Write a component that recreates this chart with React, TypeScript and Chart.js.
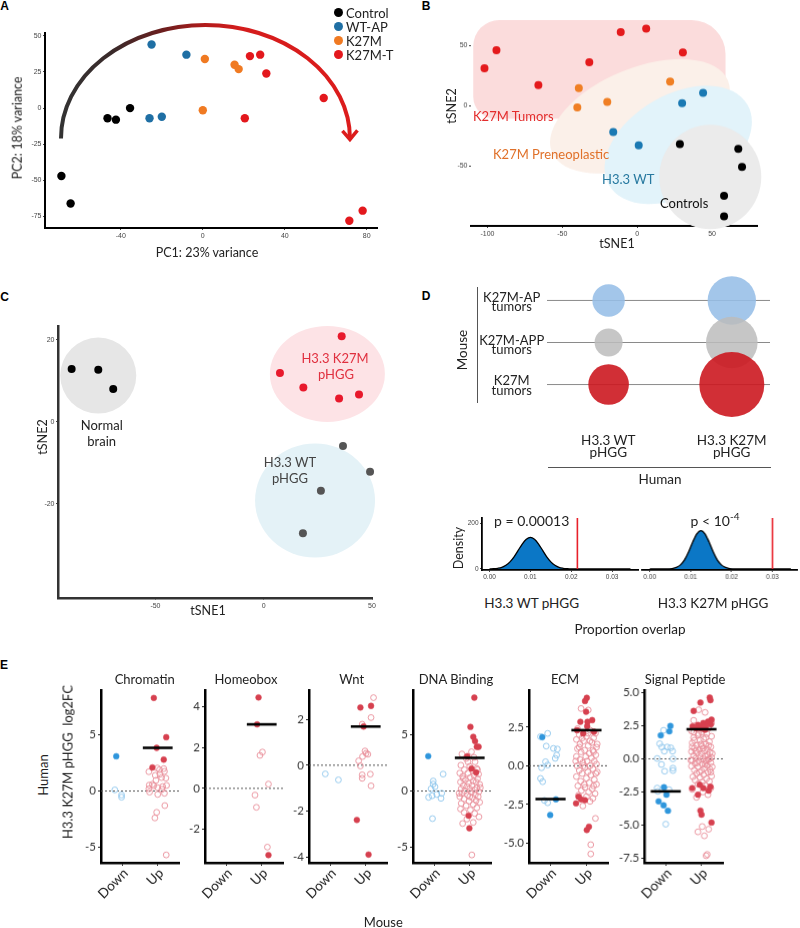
import React, { useEffect, useRef } from "react";
import { Chart, registerables } from "chart.js";
Chart.register(...registerables);

const SANS = "Lato, 'Open Sans', 'DejaVu Sans', sans-serif";
const ARIAL = "'Liberation Sans', Arial, sans-serif";

// ================= Panel A: PCA =================
const pcaGroups = ["Control", "WT-AP", "K27M", "K27M-T"];
const pcaColors = ["#000000", "#1f6fa4", "#f07a22", "#e3181d"];
const pcaControlX = [-69, -64.5, -46.5, -42.4, -35.5];
const pcaControlY = [-47, -66, -7, -8, 0];
const pcaWtApX = [-25, -8, -26, -20];
const pcaWtApY = [44, 37, -7, -6];
const pcaK27mX = [1, 15.5, 17.5, 0];
const pcaK27mY = [34, 30, 27, -1.5];
const pcaK27mTX = [23, 28, 31, 59, 20.5, 71.5, 78];
const pcaK27mTY = [36, 37, 24, 7, -7, -78, -71];
const pcaXTicks = [-40, 0, 40, 80];
const pcaYTicks = [-75, -50, -25, 0, 25, 50];

// ================= Panel B: mouse tSNE =================
const tsneRedX = [-102, -94, -66, -32, -11, 6, 30.5];
const tsneRedY = [31, 46, 17, 36, 61, 64, 44];
const tsneOrangeX = [-39, -40, -20, 22];
const tsneOrangeY = [14.5, -1.5, 3, 20];
const tsneBlueX = [44, 30, -16, 1];
const tsneBlueY = [10.5, 2, -22, -33];
const tsneBlackX = [28.5, 67.5, 70, 58, 58];
const tsneBlackY = [-32, -36, -51, -75, -92];
const tsneXTicks = [-100, -50, 0, 50];
const tsneYTicks = [-50, 0, 50];

// ================= Panel C: human tSNE =================
const humNormalX = [-88.7, -76.4, -69.5];
const humNormalY = [12.9, 12.7, 8.0];
const humK27mX = [36, 7.5, 18.3, 34.8, 44];
const humK27mY = [20.9, 11.9, 8.4, 5.7, 6.7];
const humWtX = [36.6, 49.1, 26.4, 18.1];
const humWtY = [-5.9, -12.2, -16.8, -27.2];
const humXTicks = [-50, 0, 50];
const humYTicks = [-20, 0, 20];

// ================= Panel D: overlap bubbles =================
const dRowLabels = [["K27M-AP", "tumors"], ["K27M-APP", "tumors"], ["K27M", "tumors"]];
const dColLabels = [["H3.3 WT", "pHGG"], ["H3.3 K27M", "pHGG"]];
const dOverlapWT = [16.2, 14.0, 20.3];
const dOverlapK27M = [24.2, 25.8, 32.5];

// density (permutation null distributions)
const densWtX = [0, 0.001, 0.002, 0.003, 0.004, 0.005, 0.006, 0.007, 0.008, 0.009, 0.01, 0.011, 0.012, 0.013, 0.014, 0.015, 0.016, 0.017, 0.018, 0.019, 0.02, 0.0345];
const densWtY = [0, 1, 3, 7, 16, 31, 53, 81, 109, 130, 138, 130, 109, 81, 53, 31, 16, 7, 3, 1, 0, 0];
const densK27mX = [0, 0.0045, 0.0055, 0.0065, 0.0075, 0.0085, 0.0095, 0.0105, 0.0115, 0.0125, 0.0135, 0.0145, 0.0155, 0.0165, 0.0175, 0.0185, 0.0195, 0.0205, 0.0345];
const densK27mY = [0, 0, 2, 7, 18, 40, 75, 118, 154, 168, 154, 118, 75, 40, 18, 7, 2, 0, 0];
const observedOverlap = [0.0215, 0.03];
const densXTicks = [0, 0.01, 0.02, 0.03];
const densYTicks = [0, 200];

// ================= Panel E: log2FC by category =================
// [jitter offset, log2FC]
const chromatinDownSig = [[-0.17, 3.1]];
const chromatinDownNs = [[-0.21, 0.1], [-0.02, -0.35], [-0.02, -0.55]];
const chromatinUpSig = [[-0.11, 8.3], [0.24, 4.8], [-0.03, 3.85], [0.17, 2.8], [-0.15, 2.1]];
const chromatinUpNs = [[-0.01, 2.05], [0.17, 2.0], [-0.25, 1.72], [-0.07, 1.4], [0.06, 1.5], [0.19, 1.75], [0.11, 1.2], [0.23, 1.15], [-0.05, 0.95], [-0.24, 0.53], [-0.11, 0.47], [0.14, 0.4], [-0.25, 0.2], [0.0, 0.3], [0.12, 0.15], [-0.23, -0.1], [0.0, -0.3], [0.19, -0.2], [0.2, -1.3], [-0.03, -1.9], [-0.08, -2.4], [0.24, -5.7], [0.05, 1.9], [-0.15, 0.6], [0.25, 0.5]];

const homeoboxDownSig: number[][] = [];
const homeoboxDownNs: number[][] = [];
const homeoboxUpSig = [[-0.09, 4.46], [-0.13, 3.14], [0.19, -3.27]];
const homeoboxUpNs = [[0.02, 1.78], [-0.05, 1.62], [-0.19, -0.33], [-0.15, -0.93], [0.19, 0.21], [0.16, -2.88]];

const wntDownSig: number[][] = [];
const wntDownNs = [[-0.14, -0.38], [0.23, -0.64]];
const wntUpSig = [[-0.15, 2.52], [0.15, 2.59], [-0.06, 1.69], [-0.25, -2.39], [0.08, -3.9]];
const wntUpNs = [[0.22, 2.95], [0.15, 2.08], [-0.1, 1.79], [-0.02, 0.62], [0.06, 0.48], [-0.09, 0.38], [-0.2, 0.19], [-0.15, -0.03], [0.13, -0.39], [-0.1, -0.42], [-0.1, -0.57], [0.15, -0.9], [0.01, 0.52]];

const dnaDownSig = [[-0.17, 3.11]];
const dnaDownNs = [[-0.03, 0.89], [0.02, 0.38], [-0.09, 0.2], [-0.06, -0.42], [0.07, -0.3], [0.19, -0.65], [0.25, 1.51], [-0.05, -2.46], [0.21, -0.2], [-0.03, 0.62], [-0.16, -0.56]];
const dnaUpSig = [[0.13, 8.33], [0.02, 5.72], [0.1, 4.83], [0.15, 4.45], [0.2, 3.94], [0.25, 3.94], [-0.07, 3.11], [0.05, 2.0], [0.18, 1.66], [-0.03, -2.2], [-0.01, -3.32]];
const dnaUpNs = [[-0.22, 3.3], [0.05, 3.5], [-0.1, 2.9], [0.15, 2.6], [-0.25, 2.3], [0.0, 2.2], [0.2, 2.0], [-0.15, 1.9], [0.08, 1.8], [-0.28, 1.6], [-0.05, 1.6], [0.25, 1.5], [0.12, 1.4], [-0.2, 1.3], [0.02, 1.2], [0.22, 1.1], [-0.12, 1.0], [0.1, 0.9], [-0.26, 0.8], [0.18, 0.8], [-0.03, 0.7], [0.28, 0.6], [-0.18, 0.5], [0.07, 0.5], [-0.08, 0.4], [0.2, 0.3], [-0.24, 0.2], [0.0, 0.2], [0.14, 0.1], [-0.14, 0.0], [0.26, -0.05], [0.04, -0.1], [-0.22, -0.2], [0.16, -0.3], [-0.06, -0.35], [0.24, -0.5], [-0.28, -0.5], [0.08, -0.6], [-0.16, -0.7], [0.18, -0.85], [-0.02, -0.9], [0.28, -1.0], [-0.24, -1.1], [0.1, -1.2], [-0.1, -1.3], [0.2, -1.5], [-0.26, -1.6], [0.02, -1.7], [-0.16, -1.9], [0.14, -2.0], [0.26, -2.3], [-0.08, -2.5], [-0.2, -2.9], [0.1, -2.8], [0.06, -5.7], [0.22, 1.9], [-0.05, 2.6], [0.12, 3.0], [-0.18, 1.1], [0.0, -0.5], [0.3, 0.3], [-0.3, -0.2]];

const ecmDownSig = [[-0.23, 1.85], [0.15, -2.17], [-0.01, -3.18]];
const ecmDownNs = [[-0.08, 2.09], [-0.28, 1.88], [-0.12, 1.27], [0.08, 1.12], [0.19, 1.08], [0.17, 0.69], [0.13, 0.48], [-0.14, 0.26], [-0.08, 0.05], [-0.25, -0.13], [-0.28, -0.82], [-0.22, -1.03], [-0.08, -2.39], [-0.17, -2.24]];
const ecmUpSig = [[0.01, 4.39], [-0.04, 4.18], [-0.01, 3.49], [-0.17, 2.84], [0.03, 2.84], [0.16, 2.95], [-0.26, 2.3], [-0.09, 2.09], [0.21, 2.2], [0.02, 2.56], [-0.22, -2.0], [-0.29, -2.43], [-0.15, -2.17], [-0.04, -2.22], [0.01, -4.15], [0.07, -3.94]];
const ecmUpNs = [[-0.15, 3.7], [0.05, 3.6], [-0.25, 2.4], [0.1, 2.3], [0.25, 2.1], [-0.2, 2.0], [0.0, 1.9], [0.2, 1.8], [-0.28, 1.7], [-0.08, 1.6], [0.15, 1.5], [-0.18, 1.4], [0.05, 1.3], [0.28, 1.2], [-0.25, 1.1], [-0.05, 1.0], [0.18, 1.0], [-0.15, 0.9], [0.08, 0.8], [0.26, 0.7], [-0.28, 0.6], [-0.02, 0.6], [0.14, 0.5], [-0.18, 0.4], [0.22, 0.3], [0.02, 0.3], [-0.1, 0.2], [0.28, 0.1], [-0.26, 0.0], [0.1, 0.0], [-0.04, -0.1], [0.18, -0.2], [-0.2, -0.3], [0.04, -0.4], [0.26, -0.5], [-0.12, -0.5], [0.12, -0.6], [-0.28, -0.7], [0.0, -0.8], [0.22, -0.9], [-0.16, -1.0], [0.08, -1.1], [0.28, -1.2], [-0.24, -1.3], [-0.04, -1.4], [0.16, -1.5], [-0.14, -1.6], [0.06, -1.7], [0.24, -1.8], [-0.22, -1.9], [0.0, -2.0], [0.18, -2.1], [0.1, -2.3], [-0.1, -2.6], [0.25, -3.4], [0.12, -5.1], [0.12, -5.7], [0.05, 2.1], [-0.12, 1.8], [0.3, 1.4], [-0.3, 0.3], [0.2, 0.9], [-0.06, -1.2], [0.3, -0.4], [-0.2, 1.2], [0.1, 1.6], [-0.08, 0.0], [0.2, -1.3]];

const spDownSig = [[0.13, 2.48], [0.1, 2.07], [-0.14, 1.77], [-0.05, -2.14], [0.02, -2.7], [-0.2, -3.2], [-0.06, -3.5], [0.06, -3.91]];
const spDownNs = [[-0.06, 2.15], [-0.17, 1.14], [-0.11, 0.89], [0.04, 0.89], [0.14, 0.83], [-0.04, 0.58], [0.19, 0.58], [0.2, 0.0], [-0.24, 0.03], [-0.12, -0.42], [0.2, -0.88], [-0.03, -0.93], [-0.24, -2.2], [-0.22, -2.45], [0.09, -2.32], [0.0, -4.92], [0.2, -0.7]];
const spUpSig = [[0.23, 4.62], [0.25, 4.42], [-0.03, 4.24], [-0.22, 3.61], [-0.1, 2.55], [0.05, 2.7], [0.18, 2.8], [0.28, 2.95], [-0.25, 2.45], [0.12, 2.45], [0.26, 2.6], [-0.02, 2.35], [0.0, 2.3], [0.1, 2.2], [-0.15, 2.3], [-0.26, -2.2], [-0.1, -2.7], [-0.05, -1.95], [0.2, -2.4], [0.25, -2.1], [-0.03, -3.9], [0.0, -4.2], [0.28, -4.8], [0.05, -2.2]];
const spUpNs = [[-0.08, 3.7], [0.1, 3.5], [-0.22, 2.9], [0.28, 2.7], [0.05, 2.6], [-0.15, 2.4], [0.2, 2.3], [-0.28, 2.1], [0.0, 2.0], [0.15, 1.9], [-0.1, 1.8], [0.28, 1.7], [-0.22, 1.6], [0.06, 1.5], [-0.04, 1.4], [0.22, 1.3], [-0.26, 1.2], [0.12, 1.1], [-0.14, 1.0], [0.02, 0.95], [0.26, 0.9], [-0.2, 0.8], [0.16, 0.75], [-0.06, 0.7], [0.08, 0.6], [-0.28, 0.55], [0.24, 0.5], [-0.12, 0.45], [0.0, 0.4], [0.18, 0.3], [-0.22, 0.25], [0.1, 0.2], [-0.04, 0.15], [0.28, 0.1], [-0.16, 0.05], [0.04, 0.0], [0.2, -0.05], [-0.26, -0.1], [-0.08, -0.15], [0.12, -0.2], [0.26, -0.3], [-0.18, -0.35], [0.02, -0.4], [0.16, -0.5], [-0.28, -0.55], [-0.1, -0.6], [0.08, -0.7], [0.24, -0.8], [-0.2, -0.85], [0.0, -0.9], [0.18, -1.0], [-0.14, -1.1], [0.06, -1.2], [0.28, -1.3], [-0.24, -1.35], [-0.04, -1.4], [0.14, -1.5], [-0.18, -1.6], [0.22, -1.7], [0.02, -1.75], [-0.1, -1.9], [0.1, -2.0], [0.26, -2.2], [-0.26, -2.3], [0.04, -2.5], [0.18, -2.7], [-0.14, -2.9], [-0.1, -5.5], [0.02, -5.1], [0.08, -5.8], [0.2, -5.3], [0.16, -7.2], [0.13, -7.3], [-0.2, 1.4], [0.12, 1.6], [-0.02, 1.1], [0.3, 0.4], [-0.3, -0.1], [0.1, -0.4], [-0.16, 0.6], [0.2, 1.0], [-0.06, -1.0], [0.26, -1.0], [-0.22, 2.0], [0.08, 2.2], [0.22, 0.0], [-0.12, -0.3], [0.04, 0.8], [0.14, -0.1], [-0.26, 0.9], [0.3, -0.6], [-0.08, 1.9]];

const eTitles = ["Chromatin", "Homeobox", "Wnt", "DNA Binding", "ECM", "Signal Peptide"];
const eCategories = ["Down", "Up"];
const eMedianDown = [null, null, null, null, -2.15, -2.45];
const eMedianUp = [3.85, 3.14, 1.69, 2.96, 2.3, 2.23];
const eYTicks = [[-5, 0, 5], [-2, 0, 2, 4], [-4, -2, 0, 2], [-5, 0, 5], [-5, -2.5, 0, 2.5], [-7.5, -5, -2.5, 0, 2.5, 5]];

// ---------- tables built from the arrays ----------
const eDownSig = [chromatinDownSig, homeoboxDownSig, wntDownSig, dnaDownSig, ecmDownSig, spDownSig];
const eDownNs = [chromatinDownNs, homeoboxDownNs, wntDownNs, dnaDownNs, ecmDownNs, spDownNs];
const eUpSig = [chromatinUpSig, homeoboxUpSig, wntUpSig, dnaUpSig, ecmUpSig, spUpSig];
const eUpNs = [chromatinUpNs, homeoboxUpNs, wntUpNs, dnaUpNs, ecmUpNs, spUpNs];

// ---------- layout / style ----------
const E_TOP = 690;
const E_BOTTOM = 862.7;
const E_XMIN = 0.4;
const E_XMAX = 2.6;
const eLayout = [
  { L: 100.7, R: 179, min: -6.4, max: 9.0, dec: 0, tx: 144.7 },
  { L: 204.7, R: 283.3, min: -3.65, max: 4.82, dec: 0, tx: 246 },
  { L: 309, R: 387.3, min: -4.26, max: 3.28, dec: 0, tx: 351.7 },
  { L: 412.7, R: 490.7, min: -6.4, max: 9.0, dec: 0, tx: 456 },
  { L: 529.3, R: 608.3, min: -6.27, max: 4.89, dec: 1, tx: 565 },
  { L: 644.3, R: 722.7, min: -7.83, max: 5.18, dec: 1, tx: 685 },
];
const RED_FILL = "#d6404f";
const RED_OPEN = "#e98d98";
const BLUE_FILL = "#2f96dc";
const BLUE_OPEN = "#8cc5ec";

type Box = { L: number; T: number; R: number; B: number; yW: number; xH: number; pad?: number };

function rectOf(b: Box) {
  const p = b.pad ?? 14;
  return { left: b.L - b.yW - p, top: b.T - p, width: b.R - b.L + b.yW + 2 * p, height: b.B - b.T + b.xH + 2 * p, p };
}

function ChartBox({ box, build }: { box: Box; build: (p: number) => any }) {
  const ref = useRef<HTMLCanvasElement | null>(null);
  const r = rectOf(box);
  useEffect(() => {
    const ch = new Chart(ref.current as HTMLCanvasElement, build(r.p));
    return () => ch.destroy();
  }, []);
  return (
    <canvas
      ref={ref}
      width={r.width}
      height={r.height}
      style={{ position: "absolute", left: r.left, top: r.top, width: r.width, height: r.height }}
    />
  );
}

function baseOptions(p: number, scales: any, extra: any = {}) {
  return {
    responsive: false,
    animation: false,
    devicePixelRatio: 1,
    events: [],
    layout: { padding: p, autoPadding: false },
    plugins: { legend: { display: false }, tooltip: { enabled: false } },
    scales,
    ...extra,
  };
}

function axis(o: any) {
  return {
    type: "linear",
    display: o.display ?? true,
    min: o.min,
    max: o.max,
    afterBuildTicks: (s: any) => {
      s.ticks = o.ticks.map((v: number) => ({ value: v }));
    },
    afterFit: (s: any) => {
      if (o.vertical) s.width = o.size;
      else s.height = o.size;
    },
    border: { display: o.line ?? true, color: o.lineColor ?? "#000", width: o.lineW ?? 1.5 },
    grid: { drawOnChartArea: false, drawTicks: true, tickLength: o.tickLen ?? 2, color: o.tickColor ?? "#444", lineWidth: 1 },
    ticks: {
      display: o.labels ?? true,
      autoSkip: false,
      maxRotation: 0,
      minRotation: 0,
      padding: o.tickPad ?? 1.5,
      color: o.color ?? "#444",
      font: { size: o.font ?? 7, family: o.family ?? ARIAL },
      callback: (v: number) => (o.fmt ? o.fmt(v) : String(v)),
    },
  };
}

const xy = (xs: number[], ys: number[]) => xs.map((x, i) => ({ x, y: ys[i] }));

function dotDs(data: any[], color: string, r: number) {
  return { data, clip: false, pointRadius: r, pointBackgroundColor: color, pointBorderColor: color, backgroundColor: color, borderColor: color, pointBorderWidth: 0 };
}

// ----- Panel A chart -----
const boxA: Box = { L: 45, T: 33, R: 377, B: 228, yW: 20, xH: 12 };
function buildA(p: number) {
  const arrowPlugin = {
    id: "arcArrow",
    beforeDatasetsDraw(chart: any) {
      const { ctx, scales } = chart;
      const sx = scales.x, sy = scales.y;
      const cx = sx.getPixelForValue(1.3), cy = sy.getPixelForValue(-21);
      const rx = sx.getPixelForValue(71.8) - cx;
      const ry = cy - sy.getPixelForValue(57.5);
      ctx.save();
      const g = ctx.createLinearGradient(cx - rx, 0, cx + rx, 0);
      g.addColorStop(0, "#333333");
      g.addColorStop(0.18, "#3a2a2a");
      g.addColorStop(0.36, "#6e1e1e");
      g.addColorStop(0.5, "#b31c1c");
      g.addColorStop(0.62, "#d41c1c");
      g.addColorStop(1, "#dc1c1c");
      ctx.strokeStyle = g;
      ctx.lineWidth = 4;
      ctx.beginPath();
      ctx.ellipse(cx, cy, rx, ry, 0, Math.PI, 2 * Math.PI);
      ctx.stroke();
      const tx = cx + rx, ty = cy + 1;
      ctx.strokeStyle = "#dc1c1c";
      ctx.lineWidth = 3.5;
      ctx.lineJoin = "miter";
      ctx.beginPath();
      ctx.moveTo(tx - 7.5, ty - 8.5);
      ctx.lineTo(tx, ty);
      ctx.lineTo(tx + 7.5, ty - 9);
      ctx.stroke();
      ctx.restore();
    },
  };
  return {
    type: "scatter",
    data: {
      datasets: [
        dotDs(xy(pcaControlX, pcaControlY), pcaColors[0], 4.2),
        dotDs(xy(pcaWtApX, pcaWtApY), pcaColors[1], 4.2),
        dotDs(xy(pcaK27mX, pcaK27mY), pcaColors[2], 4.2),
        dotDs(xy(pcaK27mTX, pcaK27mTY), pcaColors[3], 4.2),
      ],
    },
    options: baseOptions(p, {
      x: axis({ min: -77, max: 85, ticks: pcaXTicks, size: boxA.xH, lineW: 2 }),
      y: axis({ min: -83, max: 52, ticks: pcaYTicks, size: boxA.yW, vertical: true, lineW: 2 }),
    }),
    plugins: [arrowPlugin],
  };
}

// ----- Panel B chart -----
const boxB: Box = { L: 471, T: 20, R: 757, B: 225.7, yW: 20, xH: 12 };
function buildB(p: number) {
  const blobs = {
    id: "blobs",
    beforeDatasetsDraw(chart: any) {
      const { ctx, scales } = chart;
      const sx = scales.x, sy = scales.y;
      ctx.save();
      const x0 = sx.getPixelForValue(-109.5), x1 = sx.getPixelForValue(59);
      const y0 = sy.getPixelForValue(71), y1 = sy.getPixelForValue(-11);
      ctx.fillStyle = "#fbdcdc";
      ctx.beginPath();
      ctx.roundRect(x0, y0, x1 - x0, y1 - y0, [26, 34, 24, 22]);
      ctx.fill();
      const ell = (cxv: number, cyv: number, rx: number, ry: number, rot: number, col: string) => {
        ctx.fillStyle = col;
        ctx.beginPath();
        ctx.ellipse(sx.getPixelForValue(cxv), sy.getPixelForValue(cyv), rx, ry, (rot * Math.PI) / 180, 0, 2 * Math.PI);
        ctx.fill();
      };
      ell(1.8, -8.9, 95, 48, -22, "#fbf0e9");
      ell(27.4, -32.7, 80, 50, -30, "#e2f3fa");
      ell(48.8, -59.3, 51, 52, 0, "#ebebeb");
      ctx.restore();
    },
  };
  return {
    type: "scatter",
    data: {
      datasets: [
        dotDs(xy(tsneRedX, tsneRedY), "#e41a1c", 4),
        dotDs(xy(tsneOrangeX, tsneOrangeY), "#f07f24", 4),
        dotDs(xy(tsneBlueX, tsneBlueY), "#1a79b3", 4),
        dotDs(xy(tsneBlackX, tsneBlackY), "#000000", 4),
      ],
    },
    options: baseOptions(p, {
      x: axis({ min: -111, max: 80, ticks: tsneXTicks, size: boxB.xH, lineW: 2 }),
      y: axis({ min: -100, max: 71, ticks: tsneYTicks, size: boxB.yW, vertical: true, line: false }),
    }),
    plugins: [blobs],
  };
}

// ----- Panel C chart -----
const boxC: Box = { L: 58, T: 326, R: 372, B: 598, yW: 16, xH: 12 };
function buildC(p: number) {
  const circles = {
    id: "circles",
    beforeDatasetsDraw(chart: any) {
      const { ctx, scales } = chart;
      const sx = scales.x, sy = scales.y;
      const ell = (cxv: number, cyv: number, rx: number, ry: number, col: string) => {
        ctx.fillStyle = col;
        ctx.beginPath();
        ctx.ellipse(sx.getPixelForValue(cxv), sy.getPixelForValue(cyv), rx, ry, 0, 0, 2 * Math.PI);
        ctx.fill();
      };
      ctx.save();
      ell(-76.4, 11.3, 38, 38, "#e6e6e6");
      ell(29.4, 11.7, 57.5, 48, "#fde3e6");
      ell(23.7, -19.2, 60, 57, "#e4f2f7");
      ctx.restore();
    },
  };
  return {
    type: "scatter",
    data: {
      datasets: [
        dotDs(xy(humNormalX, humNormalY), "#000000", 4),
        dotDs(xy(humK27mX, humK27mY), "#e8192c", 4),
        dotDs(xy(humWtX, humWtY), "#555555", 4),
      ],
    },
    options: baseOptions(p, {
      x: axis({ min: -95, max: 50, ticks: humXTicks, size: boxC.xH, lineW: 2.5, lineColor: "#333" }),
      y: axis({ min: -43, max: 23.4, ticks: humYTicks, size: boxC.yW, vertical: true, lineW: 2.5, lineColor: "#333" }),
    }),
    plugins: [circles],
  };
}

// ----- Panel D bubbles -----
const boxD: Box = { L: 546.7, T: 270.5, R: 770, B: 413.8, yW: 0, xH: 0, pad: 40 };
function buildD(p: number) {
  const rowY = [3, 2, 1];
  const colors = ["rgba(150,190,231,0.88)", "rgba(188,188,188,0.85)", "rgba(204,24,32,0.9)"];
  const bubble = (i: number) => ({
    type: "bubble",
    clip: false,
    data: [
      { x: 1, y: rowY[i], r: dOverlapWT[i] },
      { x: 2, y: rowY[i], r: dOverlapK27M[i] },
    ],
    backgroundColor: colors[i],
    borderWidth: 0,
  });
  const rule = (i: number) => ({
    type: "line",
    data: [
      { x: 0.5, y: rowY[i] },
      { x: 2.31, y: rowY[i] },
    ],
    borderColor: "#8a8a8a",
    borderWidth: 1,
    pointRadius: 0,
  });
  return {
    type: "bubble",
    data: { datasets: [bubble(2), bubble(1), bubble(0), rule(0), rule(1), rule(2)] },
    options: baseOptions(p, {
      x: { type: "linear", display: false, min: 0.5, max: 2.31 },
      y: { type: "linear", display: false, min: 0.3, max: 3.7 },
    }),
  };
}

// ----- density charts -----
const boxDen1: Box = { L: 481.7, T: 518, R: 638.3, B: 570, yW: 18, xH: 11 };
const boxDen2: Box = { L: 642.3, T: 518, R: 796.7, B: 570, yW: 0, xH: 11 };
function buildDensity(xs: number[], ys: number[], obs: number, xmin: number, xmax: number, showY: boolean, yW: number) {
  return (p: number) => ({
    type: "line",
    data: {
      datasets: [
        {
          data: [
            { x: obs, y: 0 },
            { x: obs, y: 223 },
          ],
          borderColor: "#e8202a",
          borderWidth: 1.6,
          pointRadius: 0,
        },
        {
          data: xy(xs, ys),
          borderColor: "#000",
          borderWidth: 1.3,
          backgroundColor: "#0b77c6",
          fill: "origin",
          pointRadius: 0,
          cubicInterpolationMode: "monotone",
        },
      ],
    },
    options: baseOptions(p, {
      x: axis({ min: xmin, max: xmax, ticks: densXTicks, size: 11, lineW: 1.8, font: 6.5, fmt: (v: number) => v.toFixed(2) }),
      y: axis({ min: -4.4, max: 223, ticks: densYTicks, size: yW, vertical: true, display: showY, lineW: 1.8, font: 6.5 }),
    }),
  });
}

// ----- Panel E charts -----
// category tick labels drawn rotated 45 degrees at the x-scale positions
const rotatedCategoryLabels = {
  id: "rotCats",
  afterDraw(chart: any) {
    const { ctx, chartArea } = chart;
    const sx = chart.scales.x;
    ctx.save();
    ctx.font = `13.5px ${SANS}`;
    ctx.fillStyle = "#222";
    ctx.textAlign = "right";
    ctx.textBaseline = "middle";
    eCategories.forEach((label, k) => {
      const px = sx.getPixelForValue(k + 1);
      ctx.save();
      ctx.translate(px + 3.5, chartArea.bottom + 8);
      ctx.rotate(-Math.PI / 4);
      ctx.fillText(label, 0, 0);
      ctx.restore();
    });
    ctx.restore();
  },
};

function buildE(i: number) {
  return (p: number) => {
    const lay = eLayout[i];
    const pts = (arr: number[][], base: number) => arr.map(([j, v]) => ({ x: base + j, y: v }));
    const seg = (c: number, v: number) => [
      { x: c - 0.42, y: v },
      { x: c + 0.42, y: v },
    ];
    const lineDs = (data: any[], col: string, w: number) => ({ data, showLine: true, borderColor: col, borderWidth: w, pointRadius: 0 });
    const ptDs = (data: any[], col: string, filled: boolean) => ({
      data,
      pointRadius: 2.9,
      pointBackgroundColor: filled ? col : "rgba(255,255,255,0)",
      backgroundColor: filled ? col : "rgba(255,255,255,0)",
      pointBorderColor: col,
      borderColor: col,
      pointBorderWidth: filled ? 0.5 : 0.9,
    });
    const ds: any[] = [];
    if (eMedianUp[i] != null) ds.push(lineDs(seg(2, eMedianUp[i] as number), "#000", 2.6));
    if (eMedianDown[i] != null) ds.push(lineDs(seg(1, eMedianDown[i] as number), "#000", 2.6));
    ds.push(ptDs(pts(eUpSig[i], 2), RED_FILL, true));
    ds.push(ptDs(pts(eDownSig[i], 1), BLUE_FILL, true));
    ds.push(ptDs(pts(eUpNs[i], 2), RED_OPEN, false));
    ds.push(ptDs(pts(eDownNs[i], 1), BLUE_OPEN, false));
    ds.push({ ...lineDs([{ x: E_XMIN, y: 0 }, { x: E_XMAX, y: 0 }], "#555", 1), borderDash: [2, 2] });
    return {
      type: "scatter",
      data: { datasets: ds },
      options: baseOptions(p, {
        x: axis({
          min: E_XMIN,
          max: E_XMAX,
          ticks: [1, 2],
          size: 40,
          lineW: 2.5,
          tickLen: 3,
          tickColor: "#222",
          labels: false,
          font: 13,
          family: SANS,
        }),
        y: axis({
          min: lay.min,
          max: lay.max,
          ticks: eYTicks[i],
          size: 26,
          vertical: true,
          lineW: 2.5,
          tickLen: 3,
          tickColor: "#222",
          font: 11.5,
          family: SANS,
          color: "#333",
          tickPad: 2,
          fmt: (v: number) => v.toFixed(lay.dec),
        }),
      }),
      plugins: [rotatedCategoryLabels],
    };
  };
}

function Txt({ x, y, s = 12.5, c = "#222", a = "center", r = 0, w = 400, f = SANS, children }: any) {
  const tx = a === "center" ? "-50%" : a === "left" ? "0%" : "-100%";
  return (
    <div
      style={{
        position: "absolute",
        left: x,
        top: y,
        transform: `translate(${tx},-50%) rotate(${r}deg)`,
        transformOrigin: a === "left" ? "0% 50%" : "50% 50%",
        fontSize: s,
        color: c,
        fontFamily: f,
        fontWeight: w,
        whiteSpace: "nowrap",
        lineHeight: 1,
      }}
    >
      {children}
    </div>
  );
}

export default function App() {
  const legendY = [12.8, 26.8, 40.8, 54.8];
  const dRowY = [
    [296.5, 306],
    [339.5, 349],
    [379.5, 389.5],
  ];
  return (
    <div style={{ position: "absolute", left: 0, top: 0, width: 800, height: 928, overflow: "hidden", background: "#fff" }}>
      <ChartBox box={boxA} build={buildA} />
      <ChartBox box={boxB} build={buildB} />
      <ChartBox box={boxC} build={buildC} />
      <ChartBox box={boxD} build={buildD} />
      <ChartBox box={boxDen1} build={buildDensity(densWtX, densWtY, observedOverlap[0], -0.00185, 0.03634, true, 18)} />
      <ChartBox box={boxDen2} build={buildDensity(densK27mX, densK27mY, observedOverlap[1], -0.00189, 0.036, false, 0)} />
      {eLayout.map((l, i) => (
        <ChartBox key={i} box={{ L: l.L, T: E_TOP, R: l.R, B: E_BOTTOM, yW: 26, xH: 40 }} build={buildE(i)} />
      ))}

      {/* panel letters */}
      <Txt x={4.5} y={6} s={12} w={700} f={ARIAL} c="#000">A</Txt>
      <Txt x={426} y={6} s={12} w={700} f={ARIAL} c="#000">B</Txt>
      <Txt x={4.5} y={296.5} s={12} w={700} f={ARIAL} c="#000">C</Txt>
      <Txt x={426} y={296} s={12} w={700} f={ARIAL} c="#000">D</Txt>
      <Txt x={4} y={665} s={12} w={700} f={ARIAL} c="#000">E</Txt>

      {/* Panel A */}
      <Txt x={18} y={128} r={-90} s={12.5}>PC2: 18% variance</Txt>
      <Txt x={207} y={253} s={12.5}>PC1: 23% variance</Txt>
      {pcaGroups.map((g, i) => (
        <React.Fragment key={g}>
          <div style={{ position: "absolute", left: 338 - 4.5, top: legendY[i] - 4.5, width: 9, height: 9, borderRadius: "50%", background: pcaColors[i] }} />
          <Txt x={346} y={legendY[i]} a="left" s={13}>{g}</Txt>
        </React.Fragment>
      ))}

      {/* Panel B */}
      <Txt x={451.7} y={106} r={-90} s={12.5}>tSNE2</Txt>
      <Txt x={617} y={244} s={12.5}>tSNE1</Txt>
      <Txt x={473} y={116} a="left" s={13} c="#e32d2d">K27M Tumors</Txt>
      <Txt x={493} y={154} a="left" s={13} c="#e0712a">K27M Preneoplastic</Txt>
      <Txt x={602} y={179} a="left" s={13} c="#2779a0">H3.3 WT</Txt>
      <Txt x={660} y={203} a="left" s={13} c="#111">Controls</Txt>

      {/* Panel C */}
      <Txt x={43} y={437} r={-90} s={12.5}>tSNE2</Txt>
      <Txt x={208} y={611} s={12.5}>tSNE1</Txt>
      <Txt x={101.7} y={425} s={13}>Normal</Txt>
      <Txt x={101.7} y={441} s={13}>brain</Txt>
      <Txt x={335} y={358.3} s={13} c="#e0303f">H3.3 K27M</Txt>
      <Txt x={336} y={374.3} s={13} c="#e0303f">pHGG</Txt>
      <Txt x={290} y={462} s={13} c="#444">H3.3 WT</Txt>
      <Txt x={290} y={478} s={13} c="#444">pHGG</Txt>

      {/* Panel D */}
      <div style={{ position: "absolute", left: 477, top: 286.7, width: 1, height: 116.6, background: "#555" }} />
      <div style={{ position: "absolute", left: 548, top: 467, width: 222.7, height: 1, background: "#555" }} />
      <Txt x={463.3} y={350} r={-90} s={13.5}>Mouse</Txt>
      {dRowLabels.map((lines, i) => (
        <React.Fragment key={i}>
          <Txt x={511.7} y={dRowY[i][0]} s={13}>{lines[0]}</Txt>
          <Txt x={511.7} y={dRowY[i][1]} s={13}>{lines[1]}</Txt>
        </React.Fragment>
      ))}
      {dColLabels.map((lines, i) => (
        <React.Fragment key={i}>
          <Txt x={i === 0 ? 608.3 : 731.7} y={441} s={13.5}>{lines[0]}</Txt>
          <Txt x={i === 0 ? 608.3 : 731.7} y={452.5} s={13.5}>{lines[1]}</Txt>
        </React.Fragment>
      ))}
      <Txt x={660} y={480} s={13.5}>Human</Txt>
      <Txt x={459.3} y={548.3} r={-90} s={12.5}>Density</Txt>
      <Txt x={531.7} y={520.5} s={14}>p = 0.00013</Txt>
      <Txt x={715} y={521} s={14}>
        p &lt; 10<sup style={{ fontSize: 10, verticalAlign: 0, position: "relative", top: -6 }}>-4</sup>
      </Txt>
      <Txt x={531.7} y={604} s={13.5}>H3.3 WT pHGG</Txt>
      <Txt x={713} y={604} s={13.5}>H3.3 K27M pHGG</Txt>
      <Txt x={630} y={630} s={13.5}>Proportion overlap</Txt>

      {/* Panel E */}
      <Txt x={43.3} y={775} r={-90} s={13}>Human</Txt>
      <Txt x={68.3} y={762} r={-90} s={13}>H3.3 K27M pHGG&nbsp;&nbsp;log2FC</Txt>
      {eTitles.map((t, i) => (
        <Txt key={t} x={eLayout[i].tx} y={679.3} s={13}>{t}</Txt>
      ))}
      <Txt x={383.3} y={922} s={13}>Mouse</Txt>
    </div>
  );
}
